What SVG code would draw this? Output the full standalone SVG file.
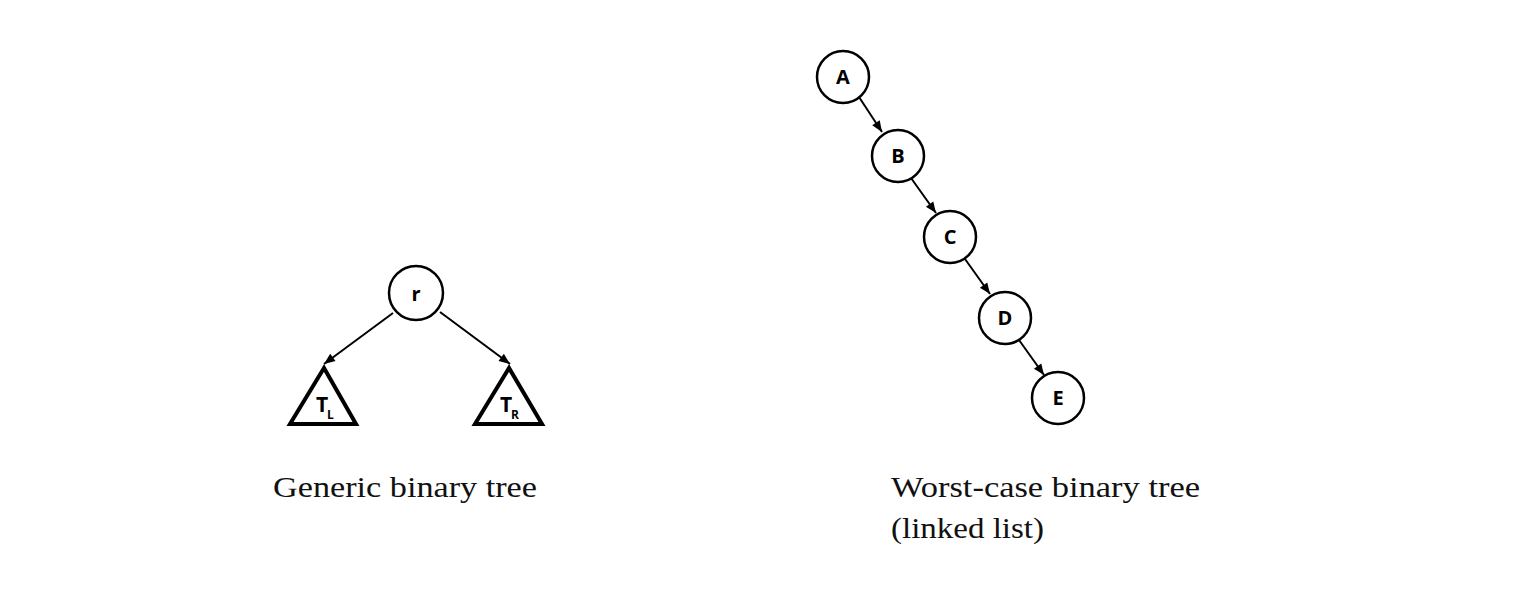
<svg xmlns="http://www.w3.org/2000/svg" width="1515" height="600" viewBox="0 0 1515 600">
<style>
.node circle{fill:#fff;stroke:#000;stroke-width:2.5}
.tri{fill:#fff;stroke:#000;stroke-width:4;stroke-linejoin:miter}
.lbl{font-family:"Open Sans","DejaVu Sans",sans-serif;font-weight:bold;font-size:20px;text-anchor:middle;fill:#000}
.big{font-family:"Open Sans","DejaVu Sans",sans-serif;font-weight:bold;font-size:21px;fill:#000}
.sub{font-family:"Open Sans","DejaVu Sans",sans-serif;font-weight:bold;font-size:12px;fill:#000}
.cap{font-family:"Liberation Serif",serif;font-size:30px;fill:#111}
.edge{stroke:#000;stroke-width:2;fill:none;marker-end:url(#ah)}
</style>
<defs>
<marker id="ah" viewBox="0 0 11 10" refX="11" refY="5" markerWidth="11" markerHeight="10" orient="auto" markerUnits="userSpaceOnUse" overflow="visible">
<path d="M0,0.5 L11,5 L0,9.5 z" fill="#000"/>
</marker>
</defs>
<rect width="1515" height="600" fill="#fff"/>
<g id="connectors">
<line class="edge" x1="393" y1="313" x2="324" y2="364"/>
<line class="edge" x1="440" y1="312" x2="510" y2="364"/>
<line class="edge" x1="859" y1="97" x2="882" y2="132"/>
<line class="edge" x1="911" y1="178" x2="936" y2="213"/>
<line class="edge" x1="965" y1="259" x2="990" y2="294"/>
<line class="edge" x1="1019" y1="340" x2="1044" y2="375"/>
</g>
<g id="node-r" class="node"><circle cx="416" cy="293" r="27"/><text class="lbl" x="416" y="301">r</text></g>
<g id="node-TL"><polygon class="tri" points="324,368 290,424 356,424"/><text class="big" x="316" y="412">T</text><text class="sub" x="327" y="419">L</text></g>
<g id="node-TR"><polygon class="tri" points="509,368 475,424 542,424"/><text class="big" x="500" y="412">T</text><text class="sub" x="511" y="419">R</text></g>
<g id="node-A" class="node"><circle cx="843" cy="77" r="26"/><text class="lbl" x="843" y="84">A</text></g>
<g id="node-B" class="node"><circle cx="898" cy="156" r="26"/><text class="lbl" x="898" y="163">B</text></g>
<g id="node-C" class="node"><circle cx="950" cy="237" r="26"/><text class="lbl" x="950" y="244">C</text></g>
<g id="node-D" class="node"><circle cx="1005" cy="318" r="26"/><text class="lbl" x="1005" y="325">D</text></g>
<g id="node-E" class="node"><circle cx="1058" cy="398" r="26"/><text class="lbl" x="1058" y="405">E</text></g>
<g id="captions">
<text class="cap" x="273" y="497" textLength="264" lengthAdjust="spacingAndGlyphs">Generic binary tree</text>
<text class="cap" x="891" y="497" textLength="309" lengthAdjust="spacingAndGlyphs">Worst-case binary tree</text>
<text class="cap" x="891" y="538" textLength="153" lengthAdjust="spacingAndGlyphs">(linked list)</text>
</g>
</svg>
